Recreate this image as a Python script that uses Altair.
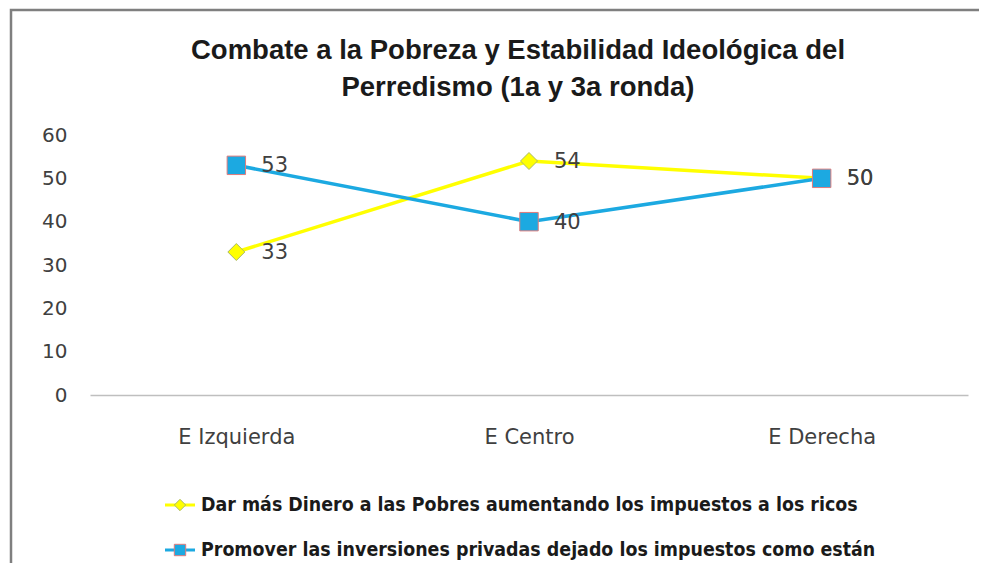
import altair as alt
import pandas as pd

categories = ["E Izquierda", "E Centro", "E Derecha"]
series_names = [
    "Dar más Dinero a las Pobres aumentando  los impuestos  a los ricos",
    "Promover las inversiones privadas dejado los impuestos  como están",
]
dar_values = [33, 54, 50]
promover_values = [53, 40, 50]
title_lines = ["Combate a la Pobreza y Estabilidad Ideológica del", "Perredismo (1a y 3a ronda)"]

YELLOW = "#FFFF00"
BLUE = "#1CA9E1"
TITLEFONT = "Liberation Sans"
AXISFONT = "DejaVu Sans"
LEGENDFONT = "DejaVu Sans Condensed, DejaVu Sans"

df_dar = pd.DataFrame({"cat": categories, "v": dar_values})
df_pro = pd.DataFrame({"cat": categories, "v": promover_values})

W, H = 878, 260

xenc = alt.X("cat:N", sort=categories, scale=alt.Scale(type="point", padding=0.5),
             axis=alt.Axis(title=None, labelAngle=0, ticks=False, domainColor="#BFBFBF",
                           domainWidth=1.5, labelFont=AXISFONT, labelFontSize=21,
                           labelColor="#404040", labelPadding=31))
yenc = alt.Y("v:Q", scale=alt.Scale(domain=[0, 60], nice=False),
             axis=alt.Axis(title=None, values=[0, 10, 20, 30, 40, 50, 60], grid=False,
                           domain=False, ticks=False, labelFont=AXISFONT, labelFontSize=20,
                           labelColor="#404040", labelPadding=23))


def series_layers(df, color, shape, size, mstroke):
    base = alt.Chart(df).encode(x=xenc, y=yenc)
    line = base.mark_line(color=color, strokeWidth=3.5)
    pts = base.mark_point(shape=shape, size=size, filled=True, fill=color, stroke=mstroke,
                          strokeWidth=1, opacity=1)
    lab = base.mark_text(align="left", baseline="middle", dx=25, dy=1, font=AXISFONT,
                         fontSize=21, color="#404040").encode(text="v:Q")
    return [line, pts, lab]


frame = alt.Chart(pd.DataFrame({"a": [0]})).mark_rect(
    filled=False, stroke="#7F7F7F", strokeWidth=2.5
).encode(x=alt.value(-79), x2=alt.value(1100), y=alt.value(-125), y2=alt.value(700))

title1 = alt.Chart(pd.DataFrame({"t": [title_lines[0]]})).mark_text(
    font=TITLEFONT, fontWeight="bold", fontSize=27.5, color="#1a1a1a", align="center", baseline="middle"
).encode(text="t:N", x=alt.value(428), y=alt.value(-84))
title2 = alt.Chart(pd.DataFrame({"t": [title_lines[1]]})).mark_text(
    font=TITLEFONT, fontWeight="bold", fontSize=27.5, color="#1a1a1a", align="center", baseline="middle"
).encode(text="t:N", x=alt.value(428), y=alt.value(-47))


def legend_row(name, color, shape, mstroke, ypos):
    d = pd.DataFrame({"t": [name]})
    b = alt.Chart(d)
    seg = b.mark_rule(color=color, strokeWidth=3).encode(x=alt.value(75), x2=alt.value(105), y=alt.value(ypos))
    mk = b.mark_point(shape=shape, size=130, filled=True, fill=color, stroke=mstroke, strokeWidth=1,
                      opacity=1).encode(x=alt.value(90), y=alt.value(ypos))
    tx = b.mark_text(align="left", baseline="middle", font=LEGENDFONT, fontSize=19.4, color="#1a1a1a",
                     fontWeight="bold").encode(text="t:N", x=alt.value(111), y=alt.value(ypos))
    return [seg, mk, tx]


layers = [frame, title1, title2]
layers += series_layers(df_dar, YELLOW, "diamond", 289, "#A9B96B")
layers += series_layers(df_pro, BLUE, "square", 340, "#E07B7B")
layers += legend_row(series_names[0], YELLOW, "diamond", "#A9B96B", 370)
layers += legend_row(series_names[1], BLUE, "square", "#E07B7B", 415)

chart = alt.layer(*layers).properties(
    width=W, height=H,
    autosize=alt.AutoSizeParams(type="none"),
    padding={"left": 82, "top": 127, "right": 11, "bottom": 168},
).configure(background="white").configure_view(stroke=None)

chart.save("out.html", embed_options={"renderer": "svg", "actions": False})
